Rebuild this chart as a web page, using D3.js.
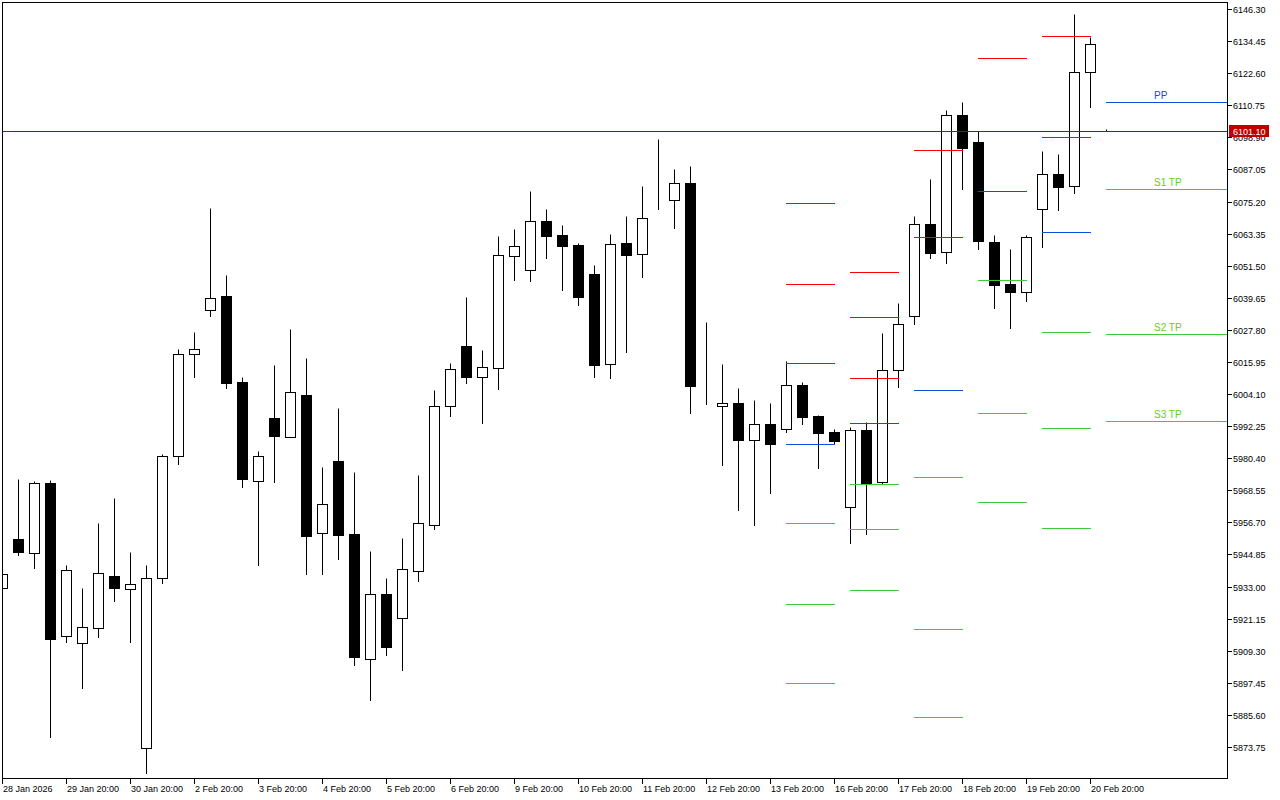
<!DOCTYPE html>
<html>
<head>
<meta charset="utf-8">
<script src="https://cdnjs.cloudflare.com/ajax/libs/d3/7.8.5/d3.min.js"></script>
<style>
body { margin: 0; background: #fff; }
svg { display: block; font-family: Tahoma, "Liberation Sans", Arial, sans-serif; }
</style>
</head>
<body>
<div id="chart"></div>
<script>
// candles, one per bar index (0 = 28 Jan 20:00)
var opens = [
    5932.47, 5950.56, 5945.39, 5971.24, 5914.74, 5912.15, 5917.69, 5936.90, 5932.10, 5873.38,
    5936.16, 5981.21, 6018.88, 6035.13, 6040.30, 6008.54, 5971.98, 5995.25, 5988.23, 6003.74,
    5952.78, 5979.37, 5952.41, 5906.25, 5930.25, 5921.39, 5938.74, 5955.73, 5999.68, 6021.84,
    6010.39, 6013.71, 6055.08, 6049.91, 6068.00, 6062.83, 6059.14, 6048.43, 6015.19, 6059.88,
    6055.82, 6075.90, 6075.76, 6082.04, 6007.07, 5999.68, 6000.79, 5987.12, 5993.03, 5991.19,
    6007.44, 5995.99, 5990.08, 5962.38, 5990.82, 5971.61, 6012.98, 6032.92, 6066.89, 6056.55,
    6107.15, 6097.18, 6060.25, 6044.74, 6041.78, 6072.43, 6085.36, 6080.93, 6123.03, 6101.10
]
var highs = [
    5937.64, 5972.72, 5971.98, 5972.35, 5940.96, 5932.47, 5956.47, 5965.71, 5945.76, 5940.96,
    5981.95, 6020.73, 6027.01, 6072.80, 6048.06, 6010.39, 5983.06, 6014.82, 6028.12, 6017.41,
    5977.15, 5998.94, 5975.31, 5946.13, 5936.16, 5950.93, 5974.20, 6005.59, 6015.56, 6039.93,
    6020.36, 6062.46, 6065.05, 6079.08, 6072.43, 6066.53, 6059.90, 6051.75, 6063.20, 6069.85,
    6080.93, 6098.29, 6087.21, 6088.31, 6030.70, 6015.19, 6006.33, 6001.90, 6000.79, 6016.30,
    6008.54, 5996.40, 5991.19, 5991.92, 5993.77, 6026.64, 6037.72, 6069.85, 6083.51, 6109.00,
    6111.95, 6101.24, 6062.83, 6057.66, 6062.83, 6093.85, 6092.75, 6144.45, 6135.96, 6101.98
]
var lows = [
    5932.47, 5944.65, 5939.85, 5877.44, 5912.52, 5895.53, 5914.37, 5927.66, 5912.52, 5864.14,
    5934.31, 5978.26, 6010.39, 6032.92, 6006.33, 5969.77, 5940.96, 5971.61, 5988.23, 5937.64,
    5937.64, 5943.18, 5904.03, 5891.10, 5907.72, 5902.18, 5935.05, 5954.26, 5995.99, 6008.17,
    5993.40, 6005.96, 6046.21, 6045.84, 6054.34, 6042.52, 6036.98, 6010.39, 6010.02, 6019.62,
    6047.32, 6072.43, 6065.42, 5997.09, 6000.42, 5977.89, 5961.27, 5955.73, 5967.55, 5990.08,
    5993.03, 5976.78, 5986.02, 5949.08, 5952.41, 5971.24, 6006.70, 6029.96, 6054.34, 6052.49,
    6079.82, 6057.66, 6035.87, 6028.49, 6038.46, 6058.40, 6072.06, 6078.34, 6110.10, 6101.10
]
var closes = [
    5937.64, 5945.76, 5971.24, 5913.63, 5939.11, 5918.06, 5938.01, 5932.47, 5933.94, 5936.16,
    5981.21, 6018.88, 6020.73, 6039.57, 6008.17, 5972.72, 5981.21, 5988.60, 6004.85, 5951.67,
    5963.49, 5952.04, 5906.98, 5930.25, 5910.68, 5939.48, 5956.47, 5999.68, 6013.34, 6010.39,
    6014.08, 6055.45, 6058.77, 6068.00, 6062.46, 6058.77, 6039.93, 6014.82, 6059.51, 6055.45,
    6069.11, 6075.60, 6082.04, 6007.07, 6006.90, 6000.79, 5987.12, 5993.03, 5985.65, 6007.44,
    5995.62, 5989.71, 5986.75, 5990.82, 5971.24, 6012.98, 6029.96, 6066.89, 6056.18, 6107.15,
    6094.96, 6060.62, 6044.37, 6041.78, 6062.09, 6085.36, 6080.56, 6123.03, 6133.37, 6101.10
]

// time axis labels (bar index of each label)
var timeLabels = ["28 Jan 2026", "29 Jan 20:00", "30 Jan 20:00", "2 Feb 20:00", "3 Feb 20:00",
    "4 Feb 20:00", "5 Feb 20:00", "6 Feb 20:00", "9 Feb 20:00", "10 Feb 20:00", "11 Feb 20:00",
    "12 Feb 20:00", "13 Feb 20:00", "16 Feb 20:00", "17 Feb 20:00", "18 Feb 20:00",
    "19 Feb 20:00", "20 Feb 20:00"]
var timeIndex = [0, 4, 8, 12, 16, 20, 24, 28, 32, 36, 40, 44, 48, 52, 56, 60, 64, 68]

// price axis
var priceTicks = [6146.30, 6134.45, 6122.60, 6110.75, 6098.90, 6087.05, 6075.20, 6063.35,
    6051.50, 6039.65, 6027.80, 6015.95, 6004.10, 5992.25, 5980.40, 5968.55, 5956.70,
    5944.85, 5933.00, 5921.15, 5909.30, 5897.45, 5885.60, 5873.75]
var bidPrice = 6101.10

// daily pivot levels, each drawn from bar pivotFrom to bar pivotTo (null = right edge)
var pivotFrom = [49, 53, 57, 61, 65, 69]
var pivotTo = [52, 56, 60, 64, 68, null]
var pp = [5985.65, 5993.40, 6005.59, 6079.08, 6063.94, 6111.95]
var r1 = [6015.56, 6010.02, 6062.09, 6128.20, 6099.03, null]
var r2 = [6044.74, 6032.55, 6094.22, null, 6136.33, null]
var r3 = [6074.65, 6049.17, null, null, null, null]
var s1 = [5956.47, 5970.87, 5973.46, 6046.21, 6027.01, 6079.82]
var s2 = [5926.56, 5954.26, 5917.32, 5997.09, 5991.55, 6026.27]
var s3 = [5897.38, 5931.73, 5884.82, 5964.23, 5954.63, 5994.14]
var lastLabels = ["PP", "S1 TP", "S2 TP", "S3 TP"]

var width = 1280
var height = 800
var plotLeft = 2, plotTop = 2, plotRight = 1227, plotBottom = 778

var red = "#ff0000", blue = "#0a50dc", green = "#3ccc3c", labelGreen = "#66cc22"

var svg = d3.select("#chart")
    .append("svg")
        .attr("width", width)
        .attr("height", height)

svg.append("rect")
    .attr("width", width)
    .attr("height", height)
    .attr("fill", "#fff")

var x = d3.scaleLinear().domain([0, 69]).range([2, 1106])
var y = d3.scaleLinear().domain([5873.75, 6146.30]).range([747, 9])
function px(i) { return Math.round(x(i)) }
function py(v) { return Math.round(y(v)) + 0.5 }

svg.append("defs").append("clipPath")
    .attr("id", "plotClip")
    .append("rect")
        .attr("x", plotLeft)
        .attr("y", plotTop)
        .attr("width", plotRight - plotLeft)
        .attr("height", plotBottom - plotTop)

var plot = svg.append("g").attr("clip-path", "url(#plotClip)")

var bars = d3.range(opens.length)

// wicks
plot.selectAll(".wick")
    .data(bars)
    .enter()
    .append("line")
    .attr("class", "wick")
    .attr("x1", function(i) { return px(i) + 0.5 })
    .attr("x2", function(i) { return px(i) + 0.5 })
    .attr("y1", function(i) { return py(highs[i]) })
    .attr("y2", function(i) { return py(lows[i]) + 0.5 })
    .attr("stroke", "#000")
    .attr("stroke-width", 1)

// bodies
plot.selectAll(".body")
    .data(bars)
    .enter()
    .append("rect")
    .attr("class", "body")
    .attr("x", function(i) { return px(i) - 4.5 })
    .attr("width", 10)
    .attr("y", function(i) { return py(Math.max(opens[i], closes[i])) })
    .attr("height", function(i) { return py(Math.min(opens[i], closes[i])) - py(Math.max(opens[i], closes[i])) })
    .attr("fill", function(i) { return closes[i] >= opens[i] ? "#fff" : "#000" })
    .attr("stroke", "#000")
    .attr("stroke-width", 1)

// pivot levels
var levels = [
    {vals: r3, color: red}, {vals: r2, color: red}, {vals: r1, color: red},
    {vals: pp, color: blue},
    {vals: s1, color: green}, {vals: s2, color: green}, {vals: s3, color: green}
]
levels.forEach(function(lv) {
    var idx = d3.range(pivotFrom.length).filter(function(i) { return lv.vals[i] != null })
    plot.selectAll(null)
        .data(idx)
        .enter()
        .append("line")
        .attr("x1", function(i) { return px(pivotFrom[i]) })
        .attr("x2", function(i) { return pivotTo[i] == null ? plotRight : px(pivotTo[i]) + 1 })
        .attr("y1", function(i) { return py(lv.vals[i]) })
        .attr("y2", function(i) { return py(lv.vals[i]) })
        .attr("stroke", lv.color)
        .attr("stroke-width", 1)
})

// labels on the current day's levels
var last = pivotFrom.length - 1
var lastVals = [pp[last], s1[last], s2[last], s3[last]]
svg.selectAll(".lvlabel")
    .data(lastLabels)
    .enter()
    .append("text")
    .attr("class", "lvlabel")
    .attr("x", 1154)
    .attr("y", function(d, i) { return py(lastVals[i]) - 3.5 })
    .attr("font-size", "10px")
    .attr("fill", function(d, i) { return i == 0 ? blue : labelGreen })
    .text(function(d) { return d })

// bid line
plot.append("line")
    .attr("x1", plotLeft)
    .attr("x2", plotRight)
    .attr("y1", py(bidPrice))
    .attr("y2", py(bidPrice))
    .attr("stroke", "#b00000")
    .attr("stroke-width", 1)

// frame
svg.append("rect")
    .attr("x", plotLeft + 0.5)
    .attr("y", plotTop + 0.5)
    .attr("width", plotRight - plotLeft)
    .attr("height", plotBottom - plotTop)
    .attr("fill", "none")
    .attr("stroke", "#000")

// price axis
var yAxis = svg.append("g")
yAxis.selectAll("line")
    .data(priceTicks)
    .enter()
    .append("line")
    .attr("x1", plotRight + 0.5)
    .attr("x2", plotRight + 5)
    .attr("y1", function(d) { return py(d) })
    .attr("y2", function(d) { return py(d) })
    .attr("stroke", "#000")
yAxis.selectAll("text")
    .data(priceTicks)
    .enter()
    .append("text")
    .attr("x", 1233)
    .attr("y", function(d) { return py(d) })
    .attr("dy", "0.35em")
    .attr("font-size", "9px")
    .attr("fill", "#000")
    .text(function(d) { return d.toFixed(2) })

// bid price box
svg.append("rect")
    .attr("x", 1229)
    .attr("y", py(bidPrice) - 6.5)
    .attr("width", 40)
    .attr("height", 12)
    .attr("fill", "#c00000")
svg.append("text")
    .attr("x", 1233)
    .attr("y", py(bidPrice))
    .attr("dy", "0.35em")
    .attr("font-size", "9px")
    .attr("fill", "#fff")
    .text(bidPrice.toFixed(2))

// time axis
var xAxis = svg.append("g")
xAxis.selectAll("line")
    .data(timeIndex)
    .enter()
    .append("line")
    .attr("x1", function(d) { return px(d) + 0.5 })
    .attr("x2", function(d) { return px(d) + 0.5 })
    .attr("y1", plotBottom)
    .attr("y2", plotBottom + 6)
    .attr("stroke", "#000")
xAxis.selectAll("text")
    .data(timeLabels)
    .enter()
    .append("text")
    .attr("x", function(d, i) { return px(timeIndex[i]) + 1 })
    .attr("y", 792)
    .attr("font-size", "9px")
    .attr("fill", "#000")
    .text(function(d) { return d })
</script>
</body>
</html>
